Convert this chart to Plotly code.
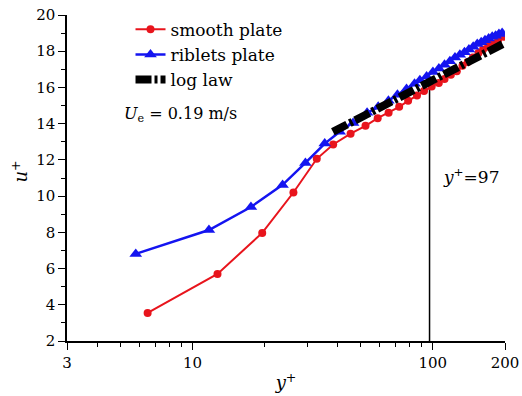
import plotly.graph_objects as go

# Data
smooth_x = [6.5, 12.7, 19.5, 26.3, 32.9, 38.5, 45.5, 52.5, 59, 65.5, 72.5, 79, 86, 92,
            99, 106, 112, 119, 126, 133, 140, 147, 155, 162, 170, 178, 187, 197]
smooth_y = [3.55, 5.70, 7.97, 10.2, 12.06, 12.85, 13.45, 13.88, 14.3, 14.6, 14.93, 15.26,
            15.55, 15.8, 16.05, 16.25, 16.47, 16.7, 16.9, 17.2, 17.4, 17.65, 17.9, 18.1,
            18.25, 18.4, 18.6, 18.8]

riblets_x = [5.8, 11.7, 17.5, 23.7, 29.5, 35.5, 41.0, 46.6, 53.3, 59.3, 65.4, 71.3, 77.8,
             84.0, 88.4, 94.3, 100.2, 106.1, 112.0, 117.9, 123.8, 129.7, 135.6, 141.5,
             147.4, 153.3, 159.2, 165.1, 171.0, 176.9, 182.8, 188.7, 194.6]
riblets_y = [6.81, 8.13, 9.40, 10.62, 11.83, 12.9, 13.55, 14.04, 14.6, 14.93, 15.26, 15.59,
             15.92, 16.2, 16.4, 16.6, 16.85, 17.05, 17.25, 17.45, 17.65, 17.8, 17.95, 18.1,
             18.25, 18.4, 18.5, 18.6, 18.7, 18.8, 18.85, 18.95, 19.0]

loglaw_x = [38.4, 200]
loglaw_y = [13.55, 18.46]

vline_x = [97, 97]
vline_y = [2, 16.6]

x_tickvals = [3, 10, 100, 200]
x_ticktext = ["3", "10", "100", "200"]
x_minor = [4, 5, 6, 7, 8, 9, 20, 30, 40, 50, 60, 70, 80, 90]

FONT = "DejaVu Serif"

fig = go.Figure()
fig.add_trace(go.Scatter(x=vline_x, y=vline_y, mode="lines",
                         line=dict(color="black", width=1.5), showlegend=False))
fig.add_trace(go.Scatter(x=smooth_x, y=smooth_y, mode="lines+markers", name="smooth plate",
                         line=dict(color="#e8141c", width=2),
                         marker=dict(symbol="circle", size=8, color="#e8141c")))
fig.add_trace(go.Scatter(x=riblets_x, y=riblets_y, mode="lines+markers", name="riblets plate",
                         line=dict(color="#1414f0", width=2.5),
                         marker=dict(symbol="triangle-up", size=11, color="#1414f0")))
fig.add_trace(go.Scatter(x=loglaw_x, y=loglaw_y, mode="lines", name="log law",
                         line=dict(color="black", width=8, dash="16px,3px,3px,3px")))

fig.add_annotation(x=2.034, y=11.1, xref="x", yref="y", xanchor="left", yanchor="middle",
                   text="<i>y</i><sup>+</sup>=97", showarrow=False,
                   font=dict(family=FONT, size=17, color="black"))
fig.add_annotation(x=0.125, y=0.695, xref="paper", yref="paper", xanchor="left", yanchor="middle",
                   text="<i>U</i><sub>e</sub> = 0.19 m/s", showarrow=False,
                   font=dict(family=FONT, size=16, color="black"))
fig.add_annotation(x=-0.107, y=0.52, xref="paper", yref="paper", xanchor="center", yanchor="middle",
                   text="<i>u</i><sup>+</sup>", showarrow=False, textangle=-90,
                   font=dict(family=FONT, size=18, color="black"))

fig.update_layout(
    width=522, height=396,
    margin=dict(l=67, r=17, t=15, b=55, autoexpand=False),
    paper_bgcolor="white", plot_bgcolor="white",
    font=dict(family=FONT, size=15, color="black"),
    showlegend=True,
    legend=dict(x=0.145, y=1.01, xanchor="left", yanchor="top",
                font=dict(family=FONT, size=17, color="black"),
                bgcolor="rgba(0,0,0,0)", tracegroupgap=0),
    xaxis=dict(type="log", range=[0.4771, 2.3010], tickvals=x_tickvals, ticktext=x_ticktext,
               automargin=False,
               ticks="outside", ticklen=7, tickwidth=1.2, tickcolor="black",
               showline=True, linecolor="black", linewidth=1.5, showgrid=False, zeroline=False,
               minor=dict(tickvals=x_minor, ticks="outside", ticklen=4, tickwidth=1.2,
                          tickcolor="black", showgrid=False),
               title=dict(text="<i>y</i><sup>+</sup>", font=dict(family=FONT, size=18),
                          standoff=6),
               tickfont=dict(family=FONT, size=15)),
    yaxis=dict(range=[2, 20], dtick=2, tick0=2, automargin=False,
               ticks="outside", ticklen=7, tickwidth=1.2, tickcolor="black",
               showline=True, linecolor="black", linewidth=1.5, showgrid=False, zeroline=False,
               minor=dict(dtick=1, ticks="outside", ticklen=4, tickwidth=1.2,
                          tickcolor="black", showgrid=False),
               tickfont=dict(family=FONT, size=15)),
)

fig.write_html("out.html")
